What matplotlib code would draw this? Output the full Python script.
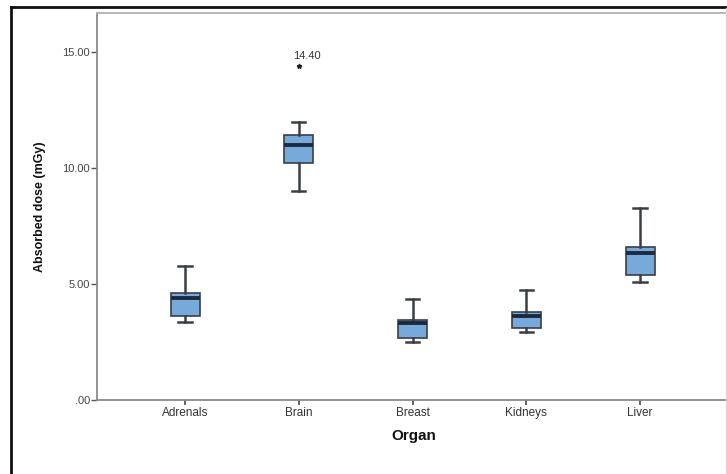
import matplotlib
matplotlib.use("Agg")
import matplotlib.pyplot as plt
from matplotlib.lines import Line2D

# ---- data ----
organs = ["Adrenals", "Brain", "Breast", "Kidneys", "Liver"]
whisker_low = [3.38, 9.01, 2.50, 2.94, 5.09]
q1 = [3.63, 10.24, 2.69, 3.12, 5.40]
medians = [4.41, 11.02, 3.33, 3.63, 6.36]
q3 = [4.60, 11.45, 3.46, 3.78, 6.62]
whisker_high = [5.78, 12.01, 4.35, 4.73, 8.30]
outliers = [[], [14.40], [], [], []]
outlier_labels = ["", "14.40", "", "", ""]
y_ticks = [0, 5, 10, 15]
y_tick_labels = [".00", "5.00", "10.00", "15.00"]

plt.rcParams['font.family'] = ['Liberation Sans', 'DejaVu Sans']

W, H = 727, 474
fig = plt.figure(figsize=(W / 100, H / 100), dpi=100)
fig.patch.set_facecolor('white')

ax = fig.add_axes([97 / W, 1 - 400 / H, (731 - 97) / W, (400 - 13) / H])

stats = []
for i, name in enumerate(organs):
    stats.append(dict(label=name, whislo=whisker_low[i], q1=q1[i], med=medians[i],
                      q3=q3[i], whishi=whisker_high[i], fliers=outliers[i]))

positions = list(range(len(organs)))
bp = ax.bxp(stats, positions=positions, widths=0.255, capwidths=0.115,
            patch_artist=True, showfliers=False,
            boxprops=dict(facecolor='#76AADB', edgecolor='#3a3f45', linewidth=1.2),
            medianprops=dict(color='#1b2b3f', linewidth=2.8, solid_capstyle='butt'),
            whiskerprops=dict(color='#3a3f45', linewidth=1.8),
            capprops=dict(color='#3a3f45', linewidth=1.8))

# outliers drawn as asterisks with labels
for i, vals in enumerate(outliers):
    for v in vals:
        ax.plot([positions[i]], [v], marker='*', markersize=3.5, color='#222222',
                linestyle='none', zorder=5)
        if outlier_labels[i]:
            ax.annotate(outlier_labels[i], xy=(positions[i], v), xytext=(-4, 3.5),
                        textcoords='offset points', ha='left', va='bottom',
                        fontsize=8, color='#333333')

ax.set_xlim(-0.774, 4.80)
ax.set_ylim(0, 16.7)
ax.set_yticks(y_ticks)
ax.set_yticklabels(y_tick_labels, fontsize=8, color='#444444')
ax.set_xticks(positions)
ax.set_xticklabels(organs, fontsize=8.5, color='#333333')

for side in ['left', 'bottom', 'top', 'right']:
    ax.spines[side].set_color('#8a8a8a')
    ax.spines[side].set_linewidth(1.3)
ax.spines['top'].set_color('#b0b0b0')

ax.tick_params(axis='y', direction='out', length=4, width=1.0, color='#555555', pad=1)
ax.tick_params(axis='x', direction='out', length=3.5, width=1.3, color='#555555', pad=1.5)

ax.set_ylabel("Absorbed dose (mGy)", fontsize=9, fontweight='bold', labelpad=12,
              color='#111111')
ax.set_xlabel("Organ", fontsize=11, fontweight='bold', labelpad=7, color='#111111')

# outer frame (partially visible, like the cropped screenshot)
fig.add_artist(Line2D([11 / W, 11 / W], [0, 1 - 6.5 / H], transform=fig.transFigure,
                      color='#111111', linewidth=2.0))
fig.add_artist(Line2D([11 / W, 1.0], [1 - 6.5 / H, 1 - 6.5 / H], transform=fig.transFigure,
                      color='#111111', linewidth=2.0))
fig.add_artist(Line2D([726 / W, 726 / W], [0, 1 - 8 / H], transform=fig.transFigure,
                      color='#d8d8d8', linewidth=1.0))

fig.savefig("out.png", dpi=100)
